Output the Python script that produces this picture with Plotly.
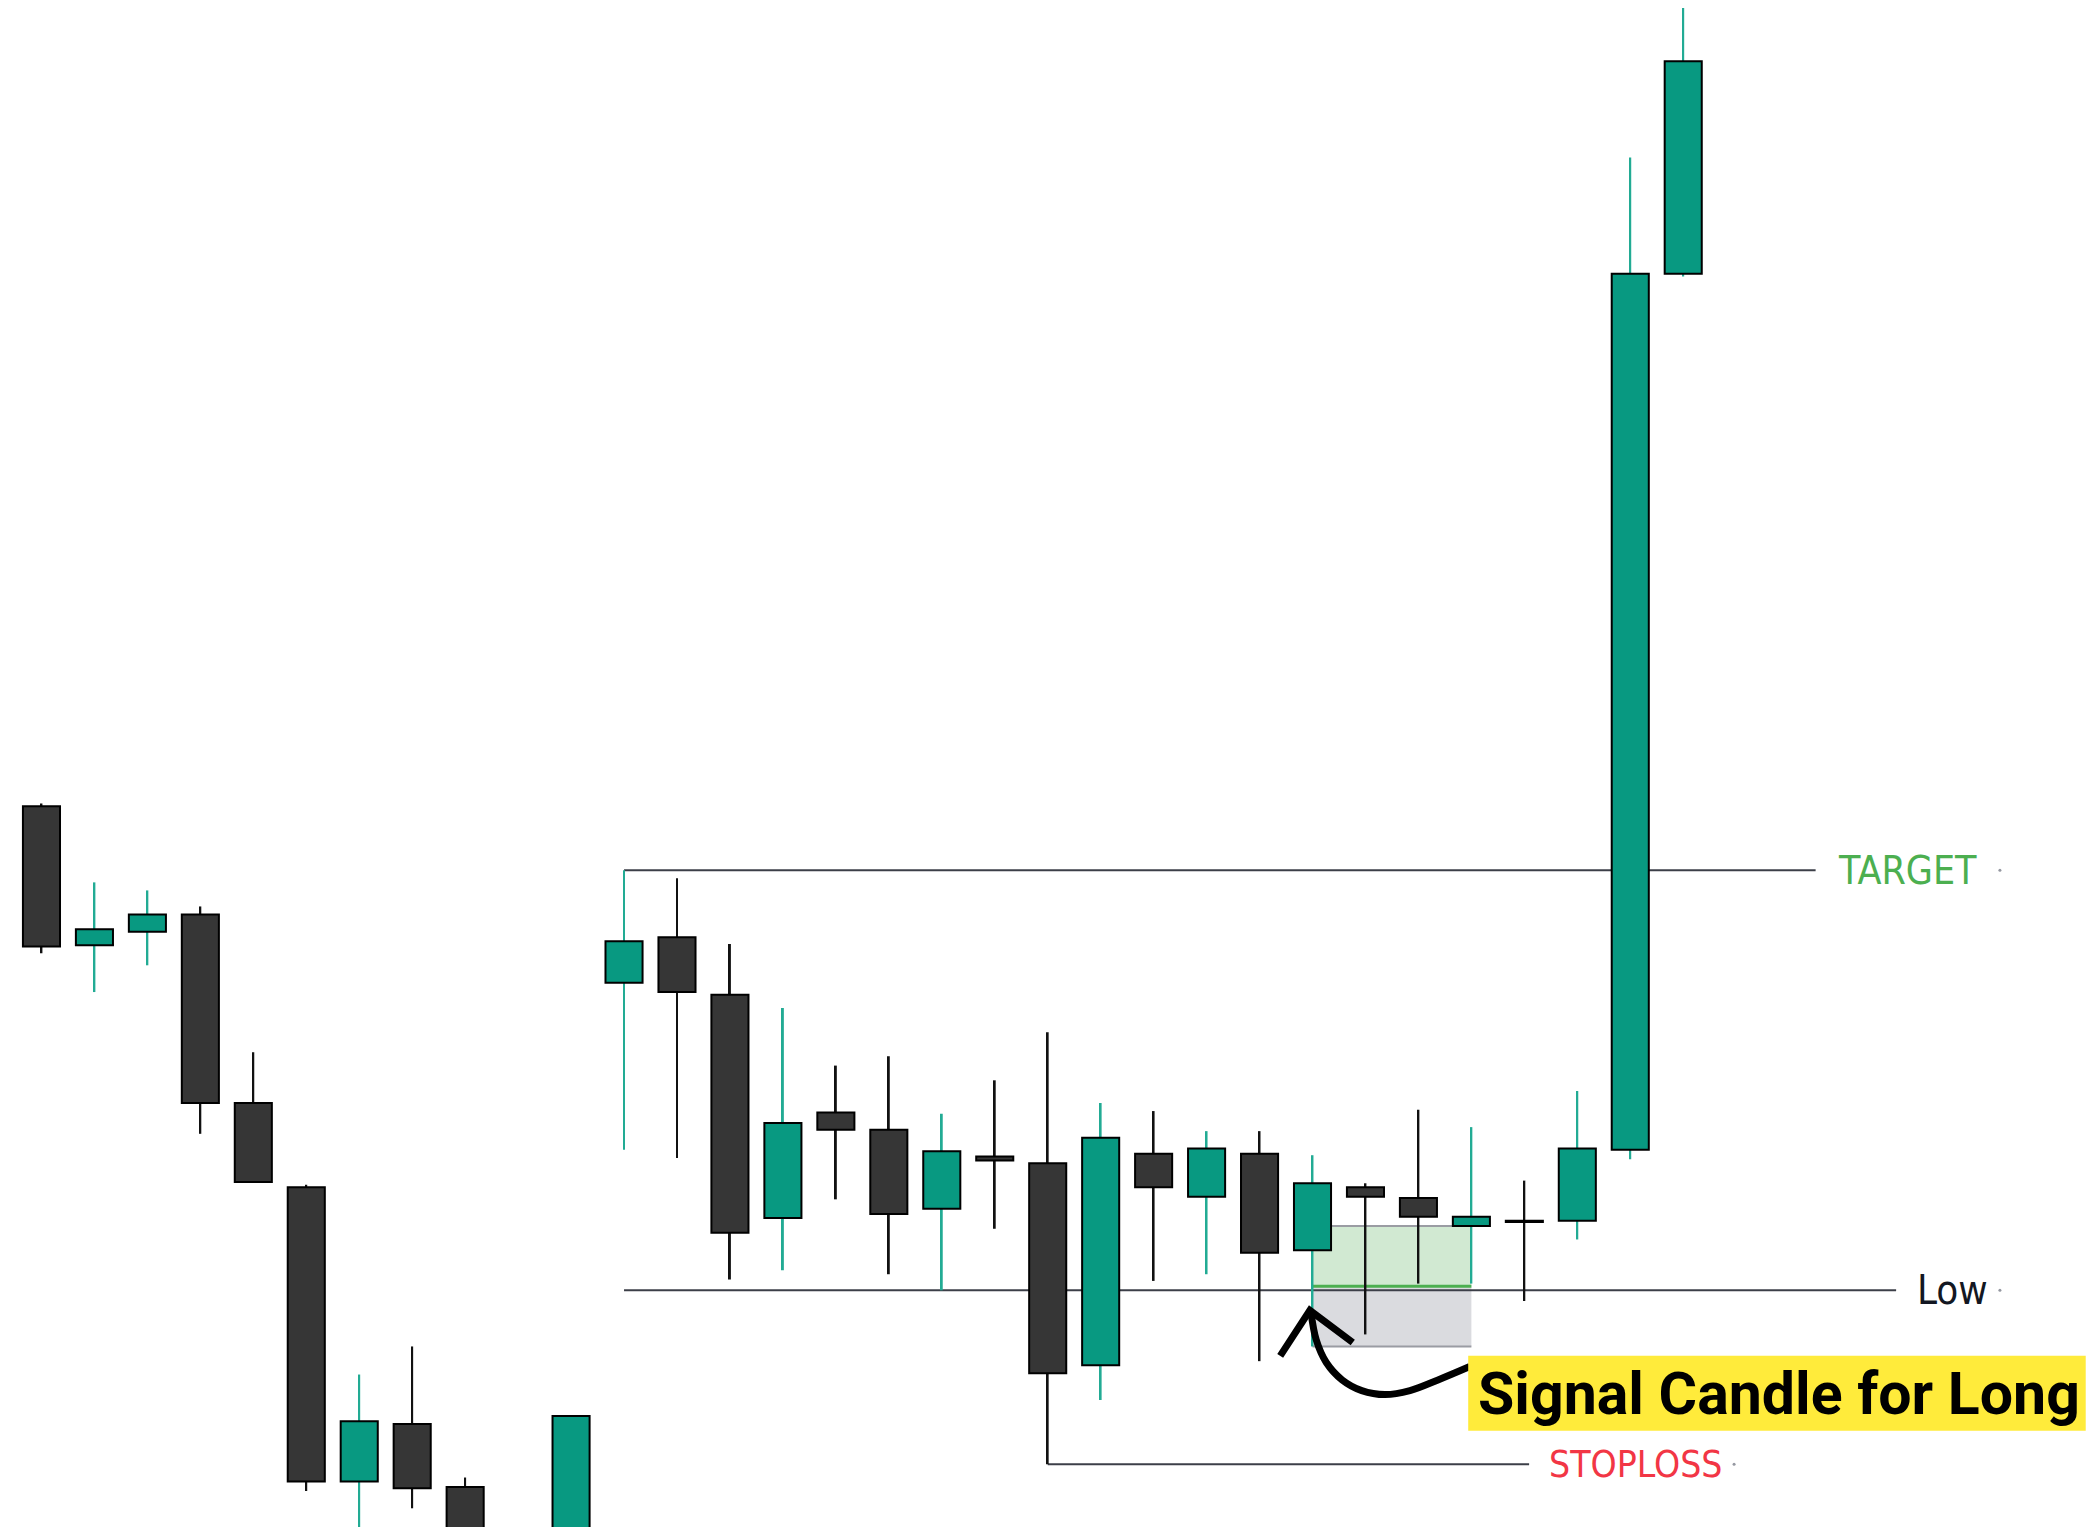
import plotly.graph_objects as go

# ---------------- data ----------------
CANDLE_IDX = [1, 2, 3, 4, 5, 6, 7, 8, 9, 11, 12, 13, 14, 15, 16, 17, 18, 19, 20,
              21, 22, 23, 24, 25, 26, 27, 28, 29, 30, 31, 32]
OPEN = [153.9, 143.5, 144.5, 145.8, 131.7, 125.4, 103.4, 107.7, 103.0, 95.5,
        140.7, 144.1, 139.8, 123.1, 131.0, 129.7, 123.8, 127.7, 127.2, 112.1,
        127.9, 124.7, 127.9, 120.7, 125.4, 124.6, 122.5, 122.9, 122.9, 128.2, 193.7]
HIGH = [154.1, 148.2, 147.6, 146.4, 135.5, 125.6, 111.4, 113.5, 103.7, 108.3,
        149.1, 148.5, 143.6, 138.8, 134.5, 135.2, 130.9, 133.4, 137.0, 131.7,
        131.1, 129.6, 129.6, 127.8, 125.7, 131.2, 129.9, 125.9, 132.6, 202.4, 213.7]
LOW = [142.9, 140.0, 142.0, 129.4, 125.8, 102.7, 99.5, 101.4, 96.0, 94.5,
       128.2, 127.6, 118.5, 119.2, 124.5, 118.9, 117.7, 122.3, 104.7, 109.5,
       118.4, 118.9, 112.4, 113.5, 114.4, 118.2, 118.2, 116.9, 121.5, 127.5, 193.5]
CLOSE = [143.4, 144.7, 145.8, 131.7, 125.8, 103.4, 107.9, 102.9, 97.5, 108.3,
         143.8, 140.0, 122.0, 130.2, 129.7, 123.4, 128.1, 127.4, 111.5, 129.1,
         125.4, 128.3, 120.5, 125.7, 124.7, 123.2, 123.2, 122.8, 128.3, 193.7, 209.6]

TARGET_PRICE = 149.1
LOW_PRICE = 117.7
STOP_PRICE = 104.7
ENTRY_PRICE = 118.0
POS_TARGET = 122.5
POS_STOP = 113.5

TARGET_LABEL = "TARGET"
LOW_LABEL = "Low"
STOP_LABEL = "STOPLOSS"
SIGNAL_TEXT = "Signal Candle for Long"

# hand-drawn arrow (bar index, price)
ARROW_HEAD_X = [24.39, 24.95, 25.76]
ARROW_HEAD_Y = [112.8, 116.2, 113.8]
ARROW_CURVE_X = [24.97, 25.07, 25.26, 25.56, 25.93, 26.37, 26.84, 27.37, 27.97]
ARROW_CURVE_Y = [116.1, 114.0, 112.3, 111.0, 110.2, 109.9, 110.2, 111.0, 112.0]

# ---------------- styles ----------------
UP = "#089981"
DOWN = "#363636"
UP_WICK = "#22ab94"
DOWN_WICK = "#111111"
LINE_COL = "#3c3f48"
FONT = "DejaVu Sans Condensed, DejaVu Sans, sans-serif"
SIGNAL_FONT = "Roboto, DejaVu Sans, sans-serif"

is_up = [c >= o for o, c in zip(OPEN, CLOSE)]

fig = go.Figure()

# wicks
fig.add_trace(go.Bar(
    x=CANDLE_IDX,
    base=LOW,
    y=[h - l for h, l in zip(HIGH, LOW)],
    width=0.036,
    marker=dict(color=[UP_WICK if u else DOWN_WICK for u in is_up], line=dict(width=0)),
    hoverinfo="skip",
))
# bodies
fig.add_trace(go.Bar(
    x=CANDLE_IDX,
    base=[min(o, c) for o, c in zip(OPEN, CLOSE)],
    y=[max(abs(c - o), 0.05) for o, c in zip(OPEN, CLOSE)],
    width=0.7,
    marker=dict(color=[UP if u else DOWN for u in is_up], line=dict(color="#000000", width=2)),
    hoverinfo="skip",
))

# arrow
fig.add_trace(go.Scatter(x=ARROW_CURVE_X, y=ARROW_CURVE_Y, mode="lines",
                         line=dict(color="#000000", width=7, shape="spline"), hoverinfo="skip"))
fig.add_trace(go.Scatter(x=ARROW_HEAD_X, y=ARROW_HEAD_Y, mode="lines",
                         line=dict(color="#000000", width=7), hoverinfo="skip"))

# small end dots next to labels
fig.add_trace(go.Scatter(x=[37.98, 37.98, 32.96], y=[TARGET_PRICE, LOW_PRICE, STOP_PRICE],
                         mode="markers", marker=dict(size=3, color="#9598a1"), hoverinfo="skip"))

shapes = []
# position tool boxes
shapes.append(dict(type="rect", xref="x", yref="y", x0=25, x1=28, y0=ENTRY_PRICE, y1=POS_TARGET,
                   fillcolor="#d1e9d2", line=dict(width=0), layer="below"))
shapes.append(dict(type="rect", xref="x", yref="y", x0=25, x1=28, y0=POS_STOP, y1=ENTRY_PRICE,
                   fillcolor="#dadbdf", line=dict(width=0), layer="below"))
shapes.append(dict(type="line", xref="x", yref="y", x0=25, x1=28, y0=POS_TARGET, y1=POS_TARGET,
                   line=dict(color="#9a9ca3", width=2), layer="below"))
shapes.append(dict(type="line", xref="x", yref="y", x0=25, x1=28, y0=POS_STOP, y1=POS_STOP,
                   line=dict(color="#9a9ca3", width=2), layer="below"))
shapes.append(dict(type="line", xref="x", yref="y", x0=25, x1=28, y0=ENTRY_PRICE, y1=ENTRY_PRICE,
                   line=dict(color="#4caf50", width=3), layer="below"))
# level lines
shapes.append(dict(type="line", xref="x", yref="y", x0=12, x1=34.5, y0=TARGET_PRICE, y1=TARGET_PRICE,
                   line=dict(color=LINE_COL, width=2), layer="below"))
shapes.append(dict(type="line", xref="x", yref="y", x0=12, x1=36.02, y0=LOW_PRICE, y1=LOW_PRICE,
                   line=dict(color=LINE_COL, width=2), layer="below"))
shapes.append(dict(type="line", xref="x", yref="y", x0=20, x1=29.09, y0=STOP_PRICE, y1=STOP_PRICE,
                   line=dict(color=LINE_COL, width=2), layer="below"))
# yellow label box
shapes.append(dict(type="rect", xref="x", yref="y", x0=27.94, x1=39.6, y0=107.2, y1=112.8,
                   fillcolor="#ffeb3b", line=dict(width=0), layer="above"))

annotations = [
    dict(x=34.88, y=TARGET_PRICE, xref="x", yref="y", text=TARGET_LABEL, showarrow=False,
         xanchor="left", yanchor="middle", font=dict(family=FONT, size=39, color="#4caf50")),
    dict(x=36.38, y=LOW_PRICE, xref="x", yref="y", text=LOW_LABEL, showarrow=False,
         xanchor="left", yanchor="middle", font=dict(family=FONT, size=40, color="#131722")),
    dict(x=29.43, y=STOP_PRICE, xref="x", yref="y", text=STOP_LABEL, showarrow=False,
         xanchor="left", yanchor="middle", font=dict(family=FONT, size=37, color="#f23645")),
    dict(x=33.81, y=110.0, xref="x", yref="y", text=SIGNAL_TEXT, showarrow=False,
         xanchor="center", yanchor="middle",
         font=dict(family=SIGNAL_FONT, size=59, color="#000000", weight="bold")),
]

# the page adds an 8px body margin, so the figure is 8px smaller and the ranges start 8px in
fig.update_layout(
    width=2089, height=1519,
    margin=dict(l=0, r=0, t=0, b=0),
    paper_bgcolor="#ffffff", plot_bgcolor="#ffffff",
    showlegend=False, barmode="overlay",
    xaxis=dict(range=[0.368, 39.813], visible=False, fixedrange=True),
    yaxis=dict(range=[100, 213.58], visible=False, fixedrange=True),
    shapes=shapes, annotations=annotations,
)

fig.write_html("out.html")
